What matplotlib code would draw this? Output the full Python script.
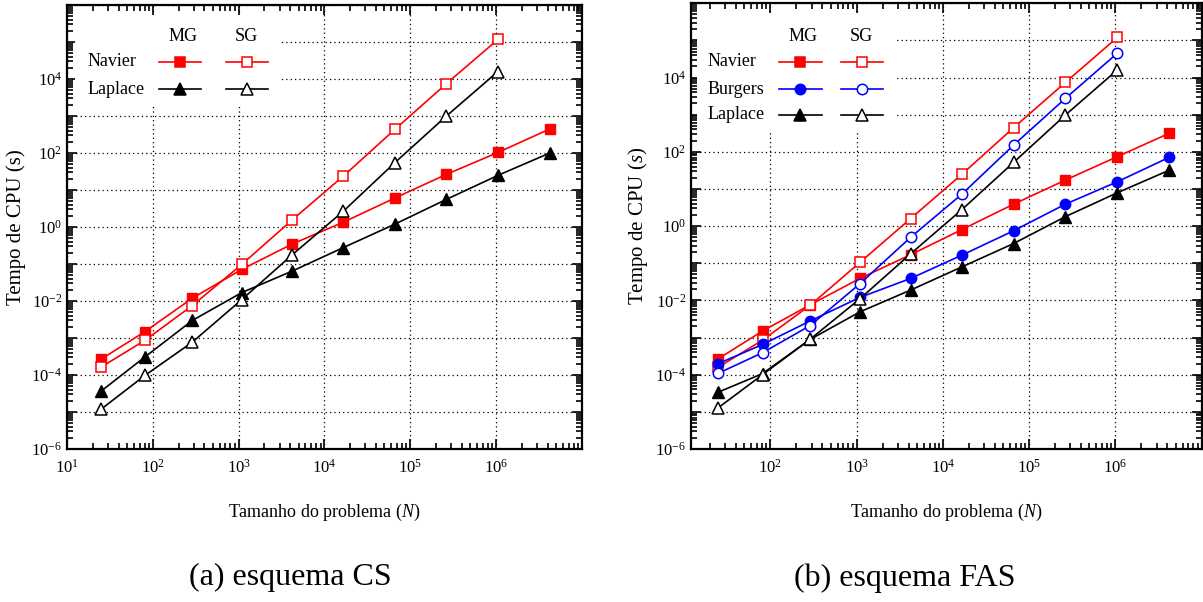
import matplotlib
matplotlib.use("Agg")
import matplotlib.pyplot as plt
import numpy as np
from matplotlib.ticker import LogLocator, FuncFormatter, NullFormatter
from matplotlib.patches import Rectangle

plt.rcParams['font.family'] = ['Liberation Serif', 'DejaVu Serif']
plt.rcParams['mathtext.fontset'] = 'custom'
plt.rcParams['mathtext.rm'] = 'Liberation Serif'
plt.rcParams['mathtext.it'] = 'Liberation Serif:italic'

# problem sizes (2^k+1)^2
N = [25, 81, 289, 1089, 4225, 16641, 66049, 263169, 1050625, 4198401]

# (a) esquema CS
cs_navier_mg = [2.7e-4, 1.5e-3, 0.012, 0.072, 0.35, 1.36, 6.1, 26.6, 104, 446]
cs_navier_sg = [1.65e-4, 8.7e-4, 7.6e-3, 0.098, 1.58, 24, 437, 7500, 1.18e5]
cs_laplace_mg = [3.7e-5, 3.1e-4, 3.0e-3, 0.017, 0.065, 0.28, 1.2, 5.6, 25, 100]
cs_laplace_sg = [1.2e-5, 9.8e-5, 7.8e-4, 0.011, 0.18, 2.7, 55, 1000, 1.6e4]

# (b) esquema FAS
fas_navier_mg = [2.7e-4, 1.5e-3, 7.6e-3, 0.039, 0.17, 0.81, 3.9, 17.4, 74, 315]
fas_navier_sg = [1.6e-4, 8.5e-4, 7.4e-3, 0.105, 1.6, 25, 447, 7400, 1.2e5]
fas_burgers_mg = [2.0e-4, 6.5e-4, 2.8e-3, 0.012, 0.039, 0.166, 0.75, 3.9, 15.6, 71]
fas_burgers_sg = [1.1e-4, 3.9e-4, 2.1e-3, 0.028, 0.5, 7.3, 152, 2750, 4.5e4]
fas_laplace_mg = [3.4e-5, 1.07e-4, 8.9e-4, 4.9e-3, 0.019, 0.08, 0.34, 1.8, 7.9, 32]
fas_laplace_sg = [1.3e-5, 1.0e-4, 9.0e-4, 0.011, 0.18, 2.8, 52, 980, 1.6e4]

styles = {
    "Navier": ("#ff0000", "s", 7),
    "Burgers": ("#0000ff", "o", 7.5),
    "Laplace": ("black", "^", 8),
}


def draw_panel(ax, series, xmin, ylab_s):
    for name, mg, sg in series:
        color, marker, ms = styles[name]
        ax.plot(N[:len(mg)], mg, color=color, marker=marker, ms=ms,
                mfc=color, mec=color, lw=1.2, zorder=3)
        ax.plot(N[:len(sg)], sg, color=color, marker=marker, ms=ms,
                mfc="white", mec=color, mew=1.1, lw=1.2, zorder=3)

    ax.set_xscale("log")
    ax.set_yscale("log")
    ax.set_xlim(xmin, 1e7)
    ax.set_ylim(1e-6, 1e6)

    for axis in (ax.xaxis, ax.yaxis):
        axis.set_major_locator(LogLocator(base=10, numticks=100))
        axis.set_minor_locator(LogLocator(base=10, subs=np.arange(2, 10), numticks=100))
        axis.set_minor_formatter(NullFormatter())

    emin = int(np.ceil(np.log10(xmin)))

    def xfmt(v, _):
        e = int(round(np.log10(v)))
        return f"$10^{{{e}}}$" if emin <= e <= 6 else ""

    def yfmt(v, _):
        e = int(round(np.log10(v)))
        return f"$10^{{{e}}}$" if (e % 2 == 0 and -6 <= e < 6) else ""

    ax.xaxis.set_major_formatter(FuncFormatter(xfmt))
    ax.yaxis.set_major_formatter(FuncFormatter(yfmt))

    ax.tick_params(which="both", direction="in", top=True, right=True,
                   width=1.2, labelsize=12)
    ax.tick_params(which="major", length=7)
    ax.tick_params(which="minor", length=4)
    ax.tick_params(axis="x", pad=7)
    for sp in ax.spines.values():
        sp.set_linewidth(1.6)

    ax.grid(True, which="major", color="black", linestyle=(0, (1, 2.5)), lw=0.9)
    ax.set_axisbelow(True)

    ax.set_xlabel("Tamanho do problema ($N$)", fontsize=13, labelpad=18)
    ax.set_ylabel(ylab_s, fontsize=15)


def add_key(ax, names, box, name_x, rows, mg_span, sg_span, head_x, head_y):
    # white box hiding the grid behind the key
    ax.add_patch(Rectangle((box[0], box[1]), box[2] - box[0], box[3] - box[1],
                           transform=ax.transAxes, facecolor="white",
                           edgecolor="none", zorder=4))
    for x, t in zip(head_x, ["MG", "SG"]):
        ax.text(x, head_y, t, transform=ax.transAxes, ha="center",
                va="center", fontsize=13, zorder=6)
    for name, y in zip(names, rows):
        color, marker, ms = styles[name]
        ax.text(name_x, y, name, transform=ax.transAxes, ha="left",
                va="center", fontsize=13, zorder=6)
        for span, face in ((mg_span, color), (sg_span, "white")):
            ax.plot(span, [y, y], transform=ax.transAxes, color=color,
                    lw=1.2, zorder=5)
            ax.plot([sum(span) / 2], [y], transform=ax.transAxes, marker=marker,
                    ms=ms, mfc=face, mec=color, mew=1.1, zorder=6)


fig = plt.figure(figsize=(12.03, 6.02), dpi=100, facecolor="white")

ax1 = fig.add_axes([0.0557, 0.254, 0.428, 0.7375])
draw_panel(ax1, [("Navier", cs_navier_mg, cs_navier_sg),
                 ("Laplace", cs_laplace_mg, cs_laplace_sg)],
           10, "Tempo de CPU (s)")
add_key(ax1, ["Navier", "Laplace"], box=(0.0155, 0.775, 0.4136, 0.977),
        name_x=0.0408, rows=(0.8723, 0.8101),
        mg_span=(0.1786, 0.2602), sg_span=(0.3087, 0.3903),
        head_x=(0.2247, 0.349), head_y=0.9286)

ax2 = fig.add_axes([0.5744, 0.2542, 0.4245, 0.7404])
draw_panel(ax2, [("Navier", fas_navier_mg, fas_navier_sg),
                 ("Burgers", fas_burgers_mg, fas_burgers_sg),
                 ("Laplace", fas_laplace_mg, fas_laplace_sg)],
           12, "Tempo de CPU ($s$)")
add_key(ax2, ["Navier", "Burgers", "Laplace"], box=(0.0117, 0.716, 0.3992, 0.978),
        name_x=0.0333, rows=(0.869, 0.807, 0.750),
        mg_span=(0.1722, 0.2564), sg_span=(0.2935, 0.3757),
        head_x=(0.2186, 0.334), head_y=0.925)

fig.text(0.241, 0.04, "(a) esquema CS", fontsize=23, ha="center", va="center")
fig.text(0.752, 0.04, "(b) esquema FAS", fontsize=23, ha="center", va="center")

fig.savefig("out.png", dpi=100)
